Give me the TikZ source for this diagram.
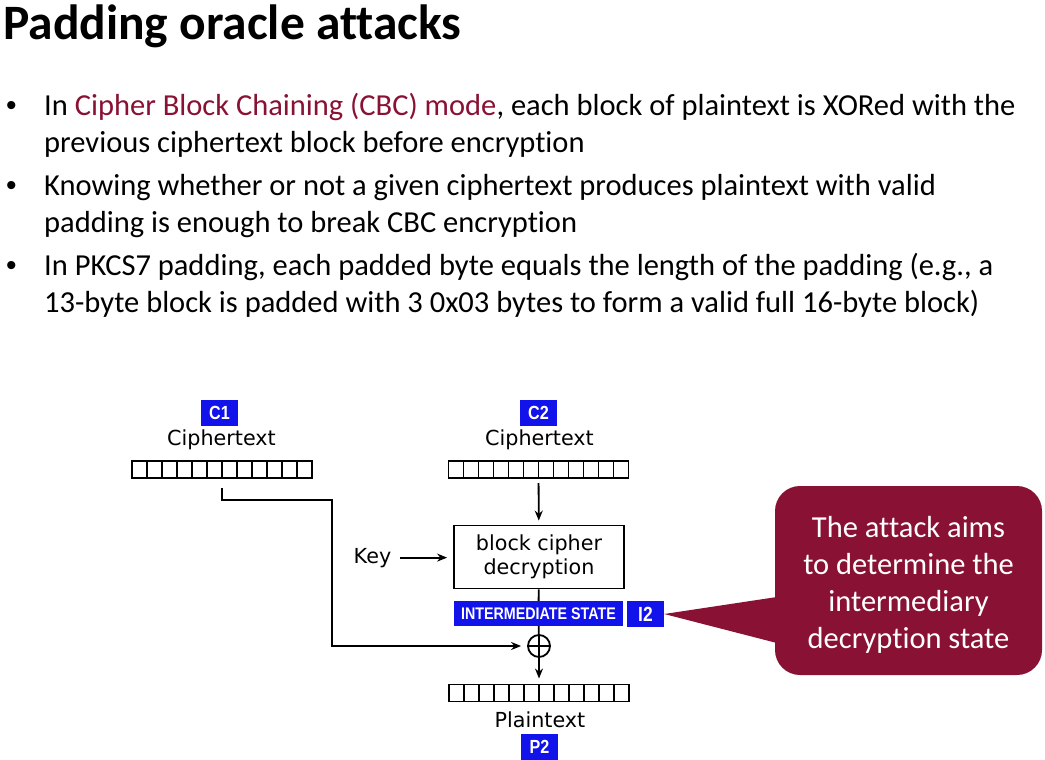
\documentclass[tikz,border=0pt]{standalone}
\usepackage{fontspec}
\setmainfont[Ligatures=NoCommon]{Carlito}
\newfontfamily\diagfont{DejaVu Sans}
\newfontfamily\dotfont{Liberation Sans}
\newfontfamily\tagfont[FakeStretch=0.85]{Liberation Sans}
\usetikzlibrary{arrows.meta}
\definecolor{maroon}{RGB}{137,18,52}
\definecolor{tagblue}{RGB}{18,18,235}
\begin{document}
\begin{tikzpicture}[x=1pt,y=-1pt,
    tag/.style={fill=tagblue,text=white,inner sep=0,minimum width=37,minimum height=26,
      font=\tagfont\bfseries\fontsize{19}{19}\selectfont},
    byterow/.style={draw,line width=1.8,minimum width=180,minimum height=17,inner sep=0,outer sep=0},
    lbl/.style={font=\diagfont\fontsize{20.7}{24}\selectfont,inner sep=0},
    body/.style={anchor=base west,inner sep=0,font=\fontsize{30.5}{37}\selectfont},
    wire/.style={line width=1.8},
    arr/.style={line width=1.8,-{Stealth[length=10pt,width=8pt]}}]
  \useasboundingbox (0,0) rectangle (1045,760);
  \node[anchor=base west,inner sep=0,font=\bfseries\fontsize{49.5}{50}\selectfont] (title) at (3,40) {Padding oracle attacks};
  \foreach \y [count=\i] in {115,195,275}{
    \node[anchor=base,inner sep=0,font=\dotfont\fontsize{30}{30}\selectfont] (dot\i) at (11.5,\y) {•};
  }
  \foreach \y/\t [count=\i] in {115/{In \textcolor{maroon}{Cipher Block Chaining (CBC) mode}, each block of plaintext is XORed with the},
      152/{previous ciphertext block before encryption},
      195/{Knowing whether or not a given ciphertext produces plaintext with valid},
      232/{padding is enough to break CBC encryption},
      275/{In PKCS7 padding, each padded byte equals the length of the padding (e.g., a},
      312/{13-byte block is padded with 3 0x03 bytes to form a valid full 16-byte block)}}{
    \node[body] (line\i) at (44,\y) {\t};
  }
  \node[tag] (c1) at (219.5,412.5) {C1};
  \node[lbl,anchor=base] (c1t) at (221.5,445) {Ciphertext};
  \node[byterow] (c1r) at (222,469.5) {};
  \node[tag] (c2) at (538.5,412.5) {C2};
  \node[lbl,anchor=base] (c2t) at (539.5,445) {Ciphertext};
  \node[byterow] (c2r) at (538.5,469.5) {};
  \node[lbl,draw,line width=1.8,minimum width=170,minimum height=63,align=center] (dec) at (539,557) {block cipher\\decryption};
  \node[lbl,anchor=base] (key) at (372.5,563) {Key};
  \node[tag,minimum width=169,minimum height=25,font=\tagfont\bfseries\fontsize{16.8}{17}\selectfont] (is) at (538.5,613.5) {INTERMEDIATE STATE};
  \node[tag,font=\tagfont\bfseries\fontsize{20.5}{20}\selectfont] (i2) at (645.5,614) {I2};
  \node[circle,draw,line width=1.8,minimum size=22,inner sep=0] (xor) at (539,646) {};
  \node[byterow] (p2r) at (539,693) {};
  \node[lbl,anchor=base] (pt) at (540,727) {Plaintext};
  \node[tag] (p2) at (539.5,747) {P2};
  \foreach \r in {c1r,c2r,p2r}{
    \foreach \i in {1,...,11}{
      \draw[wire] ([xshift=\i*15pt]\r.north west) -- ([xshift=\i*15pt]\r.south west);
    }
  }
  \draw[wire] (xor.north) -- (xor.south) (xor.west) -- (xor.east);
  \coordinate (bend) at (332,500);
  \draw[arr,shorten <=5pt,shorten >=4pt] (c2r) -- (dec);
  \draw[arr,shorten <=9pt,shorten >=6pt] (key.east) -- (key.east -| dec.west);
  \draw[wire] (dec) -- (is);
  \draw[wire] (is) -- (xor);
  \draw[arr,shorten >=6pt] (xor) -- (p2r);
  \draw[arr,shorten <=10pt,shorten >=6pt] (c1r.south) |- (bend) |- (xor.west);
  \node[fill=maroon,rounded corners=25,minimum width=267,minimum height=189,text=white,align=center,
    font=\fontsize{30.5}{37}\selectfont] (note) at (908.5,580.5) {\rule{0pt}{29pt}The attack aims\\to determine the\\intermediary\\decryption state};
  \fill[maroon] ([xshift=2pt,yshift=-16.5pt]note.west) -- (i2.east) -- ([xshift=2pt,yshift=-62.5pt]note.west) -- cycle;
\end{tikzpicture}
\end{document}
